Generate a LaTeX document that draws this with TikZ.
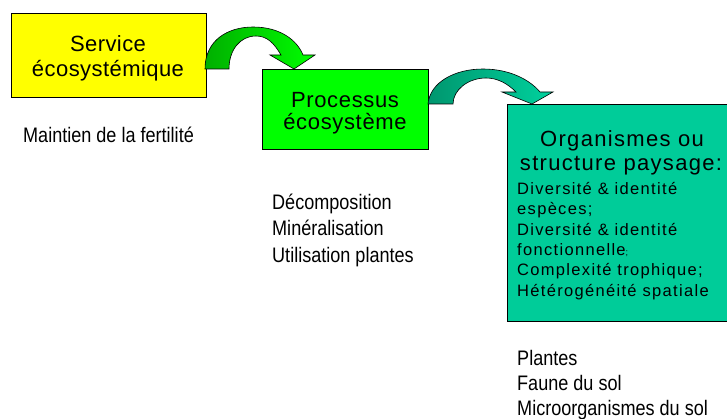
\documentclass[tikz,border=0pt]{standalone}
\usepackage{fontspec}
\setmainfont{Liberation Sans}
\newfontfamily\fYel{Liberation Sans}[LetterSpace=2]
\newfontfamily\fGrn{Liberation Sans}[LetterSpace=3]
\newfontfamily\fTeal{Liberation Sans}[LetterSpace=6]
\newfontfamily\fSmall{Liberation Sans}[LetterSpace=8]
\newfontfamily\fNarrow{Liberation Sans}[FakeStretch=0.86]
\definecolor{yel}{RGB}{255,255,0}
\definecolor{grn}{RGB}{0,255,0}
\definecolor{tealbox}{RGB}{0,204,153}
\definecolor{arAl}{RGB}{0,175,0}
\definecolor{arAr}{RGB}{0,255,0}
\definecolor{arBl}{RGB}{0,150,110}
\definecolor{arBr}{RGB}{0,210,158}
\begin{document}
\begin{tikzpicture}[x=1pt,y=-1pt,
  box/.style={draw=black, line width=0.8pt, anchor=north west, inner sep=0pt},
  ttlY/.style={anchor=base, inner sep=0pt, font=\fYel\fontsize{22}{26}\selectfont},
  ttlG/.style={anchor=base, inner sep=0pt, font=\fGrn\fontsize{22}{26}\selectfont},
  ttlT/.style={anchor=base, inner sep=0pt, font=\fTeal\fontsize{22}{26}\selectfont},
  small/.style={anchor=base west, inner sep=0pt, font=\fSmall\fontsize{16.5}{20}\selectfont},
  note/.style={anchor=base west, inner sep=0pt, font=\fNarrow\fontsize{21}{25}\selectfont},
  arrowband/.style={draw=black, line width=0.6pt}]
\useasboundingbox (0,0) rectangle (727,419);
\fill[white] (0,0) rectangle (727,419);

% boxes
\node[box, fill=yel, minimum width=195pt, minimum height=84pt] (svc) at (11,13) {};
\node[box, fill=grn, minimum width=166pt, minimum height=80pt] (proc) at (262,69) {};
\node[box, fill=tealbox, minimum width=224pt, minimum height=217pt] (org) at (507,104) {};

% curved arrows
\draw[arrowband, left color=arAl, right color=arAr]
  (205,69) .. controls (205,40) and (228,27) .. (253,27)
  .. controls (280,27) and (297,40) .. (303,55)
  -- (315,55) -- (294,69) -- (270,55) -- (281,55)
  .. controls (274,43) and (267,36) .. (256,36)
  .. controls (240,36) and (229,50) .. (229,69) -- cycle;
\draw[arrowband, left color=arBl, right color=arBr]
  (428,104) .. controls (430,82) and (455,69) .. (483,69)
  .. controls (510,69) and (530,80) .. (540,92)
  -- (553,92) -- (532,104) -- (502,92) -- (516,92)
  .. controls (508,84) and (498,78) .. (486,78)
  .. controls (468,78) and (453,90) .. (453,104) -- cycle;

% box texts
\node[ttlY] (svc1) at (108,52) {Service};
\node[ttlY] (svc2) at (108,77) {écosystémique};
\node[ttlG] (proc1) at (345,108) {Processus};
\node[ttlG] (proc2) at (345,130) {écosystème};
\node[ttlT] (org1) at (622,147) {Organismes ou};
\node[ttlT] (org2) at (621,171) {structure paysage:};
\node[small] (org3) at (517,195) {Diversité \& identité};
\node[small] (org4) at (517,215) {espèces;};
\node[small] (org5) at (517,236) {Diversité \& identité};
\node[small] (org6) at (517,256) {fonctionnelle{\fontsize{9}{10}\selectfont;}};
\node[small] (org7) at (517,276) {Complexité trophique;};
\node[small] (org8) at (517,296) {Hétérogénéité spatiale};

% notes
\node[note] (n1) at (23,143) {Maintien de la fertilité};
\node[note] (n2) at (272,210) {Décomposition};
\node[note] (n3) at (272,236) {Minéralisation};
\node[note] (n4) at (272,262) {Utilisation plantes};
\node[note] (n5) at (517,365) {Plantes};
\node[note] (n6) at (517,390) {Faune du sol};
\node[note] (n7) at (517,415) {Microorganismes du sol};
\end{tikzpicture}
\end{document}
